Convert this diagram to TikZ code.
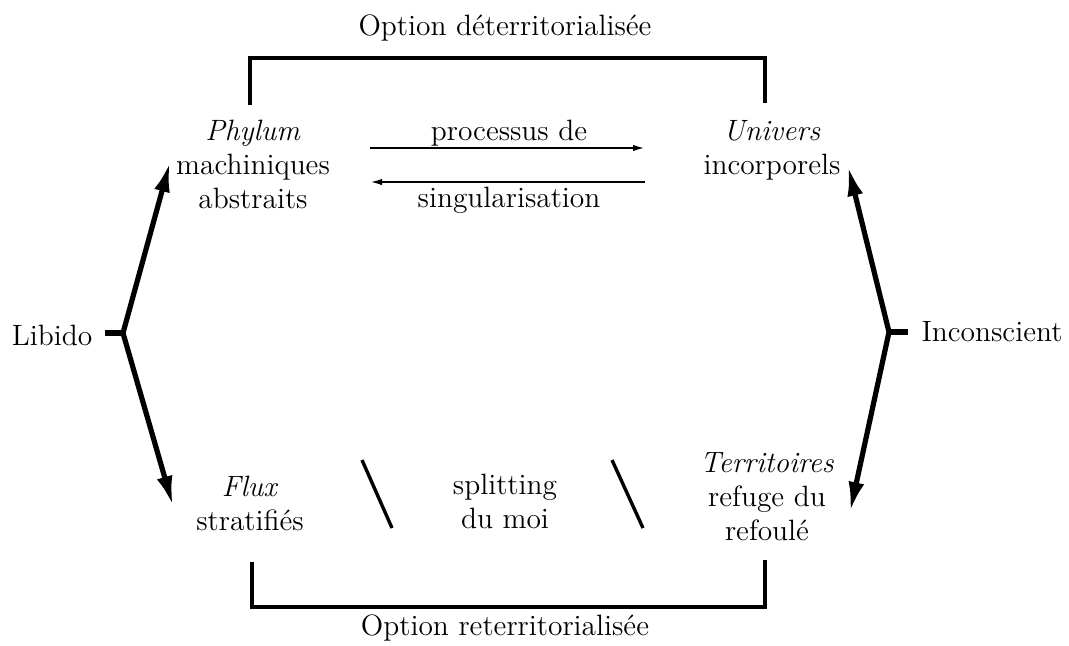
\documentclass[tikz,border=0pt]{standalone}
\usetikzlibrary{arrows.meta}
\begin{document}
\begin{tikzpicture}[x=0.5pt,y=-0.5pt,
  lbl/.style={font=\fontsize{14.7}{17}\selectfont, align=center, inner sep=0pt},
  bracket/.style={line width=2pt},
  bigarrow/.style={line width=2.6pt, line join=miter, {Latex[length=15pt,width=8pt]}-{Latex[length=15pt,width=8pt]}},
  tickline/.style={line width=3pt},
  thinarrow/.style={line width=1pt, -{Latex[length=6pt,width=3.2pt]}},
  slashline/.style={line width=1.7pt}]
\useasboundingbox (0,0) rectangle (1069,645);
% labels
\node[lbl] (top) at (505,28) {Option déterritorialisée};
\node[lbl] (bottom) at (505,628) {Option reterritorialisée};
\node[lbl] (phylum) at (253,164) {\textit{Phylum}\\machiniques\\abstraits};
\node[lbl] (univers) at (772,150) {\textit{Univers}\\incorporels};
\node[lbl] (flux) at (250,503) {\textit{Flux}\\stratifiés};
\node[lbl] (split) at (505,501) {splitting\\du moi};
\node[lbl] (terr) at (767,497) {\textit{Territoires}\\refuge du\\refoulé};
\node[lbl] (proc) at (509,133) {processus de};
\node[lbl] (sing) at (509,200) {singularisation};
\node[lbl] (libido) at (52,335) {Libido};
\node[lbl] (incons) at (992,332) {Inconscient};
% brackets
\coordinate (tl) at (250,105);
\coordinate (tr) at (765,103);
\coordinate (bl) at (252,562);
\coordinate (br) at (765,560);
\draw[bracket] (tl) -- (tl |- 0,58) -- (tr |- 0,58) -- (tr);
\draw[bracket] (bl) -- (bl |- 0,607) -- (br |- 0,607) -- (br);
% process arrows
\coordinate (a1) at (370,148);
\coordinate (a2) at (645,148);
\coordinate (b1) at (645,182);
\coordinate (b2) at (370,182);
\draw[thinarrow] (a1) -- (a2);
\draw[thinarrow] (b1) -- (b2);
% slashes
\coordinate (s1a) at (362,460);
\coordinate (s1b) at (392,528);
\coordinate (s2a) at (612,460);
\coordinate (s2b) at (643,528);
\draw[slashline] (s1a) -- (s1b);
\draw[slashline] (s2a) -- (s2b);
% libido
\coordinate (jl) at (123,333);
\coordinate (lt) at (170,162);
\coordinate (lb) at (173,506);
\draw[tickline] (105,333) -- (jl);
\draw[bigarrow] (lt) -- (jl) -- (lb);
% inconscient
\coordinate (jr) at (889,332);
\coordinate (rt) at (848,166);
\coordinate (rb) at (850,512);
\draw[tickline] (jr) -- (908,332);
\draw[bigarrow] (rt) -- (jr) -- (rb);
\end{tikzpicture}
\end{document}
